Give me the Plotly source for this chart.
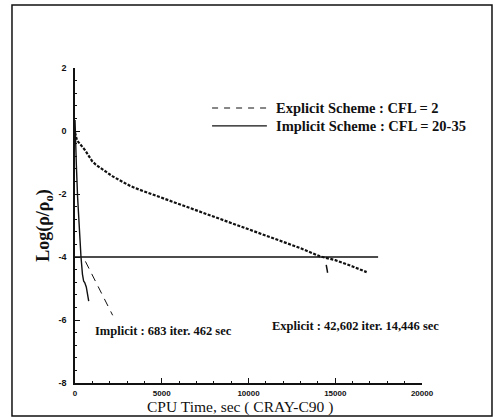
import plotly.graph_objects as go

# Explicit scheme (CFL = 2): CPU time (s) vs log residual
explicit_t = [0, 60, 115, 300, 594, 800, 980, 1200, 1440, 1800, 2200, 2710, 3200, 3700,
              4200, 4700, 5285, 6000, 7000, 8000, 9000, 10086, 11000, 12000, 13000, 14120,
              15000, 16000, 16810]
explicit_r = [-0.05, -0.18, -0.3, -0.42, -0.62, -0.8, -0.95, -1.07, -1.17, -1.3, -1.45,
              -1.6, -1.75, -1.86, -1.96, -2.05, -2.16, -2.32, -2.5, -2.72, -2.92, -3.13,
              -3.32, -3.52, -3.72, -3.98, -4.1, -4.3, -4.48]

# Implicit scheme (CFL = 20-35)
implicit_t = [0, 17, 80, 150, 248, 346, 430, 500, 560, 650, 790]
implicit_r = [0.35, -0.28, -1.1, -2.1, -3.13, -4.0, -4.55, -4.77, -4.81, -4.95, -5.4]

# Dashed continuation after convergence level
tail_t = [600, 2170]
tail_r = [-4.14, -5.85]

# Small mark near explicit crossing
mark_t = [14480, 14560]
mark_r = [-4.25, -4.5]

# Convergence level
level_t = [0, 17470]
level_r = [-4, -4]

x_ticks = [0, 5000, 10000, 15000, 20000]
y_ticks = [2, 0, -2, -4, -6, -8]

BLACK = "#111111"
SERIF = "Liberation Serif, Times New Roman, serif"
SANS = "Liberation Sans, Arial, sans-serif"

fig = go.Figure()
fig.add_trace(go.Scatter(x=level_t, y=level_r, mode="lines",
                         line=dict(color=BLACK, width=1.3), showlegend=False))
fig.add_trace(go.Scatter(x=explicit_t, y=explicit_r, mode="lines",
                         line=dict(color=BLACK, width=2.2, dash="3px,1.5px"), showlegend=False))
fig.add_trace(go.Scatter(x=implicit_t, y=implicit_r, mode="lines",
                         line=dict(color=BLACK, width=1.4), showlegend=False))
fig.add_trace(go.Scatter(x=tail_t, y=tail_r, mode="lines",
                         line=dict(color=BLACK, width=1, dash="8px,6px"), showlegend=False))
fig.add_trace(go.Scatter(x=mark_t, y=mark_r, mode="lines",
                         line=dict(color=BLACK, width=1.5), showlegend=False))

# Outer frame
fig.add_shape(type="rect", xref="paper", yref="paper", x0=-0.1816, x1=1.2017, y0=-0.105, y1=1.2,
              line=dict(color=BLACK, width=1.5))

# Legend samples
fig.add_shape(type="line", xref="paper", yref="paper", x0=0.395, x1=0.553, y0=0.873, y1=0.873,
              line=dict(color=BLACK, width=1.2, dash="6px,6px"))
fig.add_shape(type="line", xref="paper", yref="paper", x0=0.395, x1=0.553, y0=0.816, y1=0.816,
              line=dict(color=BLACK, width=1.2))
fig.add_annotation(xref="paper", yref="paper", x=0.573, y=0.873, xanchor="left", yanchor="middle",
                   text="<b>Explicit Scheme : CFL = 2</b>", showarrow=False,
                   font=dict(family=SERIF, size=14.5, color=BLACK))
fig.add_annotation(xref="paper", yref="paper", x=0.573, y=0.816, xanchor="left", yanchor="middle",
                   text="<b>Implicit Scheme : CFL = 20-35</b>", showarrow=False,
                   font=dict(family=SERIF, size=14.5, color=BLACK))

fig.add_annotation(x=1037, y=-6.36, xanchor="left", yanchor="middle",
                   text="<b>Implicit : 683 iter. 462 sec</b>", showarrow=False,
                   font=dict(family=SERIF, size=12.5, color=BLACK))
fig.add_annotation(x=11240, y=-6.2, xanchor="left", yanchor="middle",
                   text="<b>Explicit : 42,602 iter. 14,446 sec</b>", showarrow=False,
                   font=dict(family=SERIF, size=12.5, color=BLACK))

# X axis title
fig.add_annotation(xref="paper", yref="paper", x=0.476, y=-0.108, xanchor="center", yanchor="bottom",
                   text="CPU Time, sec ( CRAY-C90 )", showarrow=False, borderpad=0,
                   font=dict(family=SERIF, size=15.5, color=BLACK))

fig.update_layout(
    width=495, height=417,
    margin=dict(l=75, r=73, t=68, b=34),
    paper_bgcolor="white", plot_bgcolor="white",
    showlegend=False,
    xaxis=dict(range=[0, 20000], tickvals=x_ticks, ticktext=[f"<b>{v}</b>" for v in x_ticks],
               ticks="inside", ticklen=5, tickwidth=1.2, tickcolor=BLACK, automargin=False,
               showline=True, linecolor=BLACK, linewidth=1.5, showgrid=False, zeroline=False,
               minor=dict(ticks="inside", dtick=1000, ticklen=2.5, tickcolor=BLACK, showgrid=False),
               tickfont=dict(family=SANS, size=8, color=BLACK), ticklabelstandoff=2),
    yaxis=dict(range=[-8, 2], tickvals=y_ticks, ticktext=[f"<b>{v}</b>" for v in y_ticks],
               ticks="inside", ticklen=5, tickwidth=1.2, tickcolor=BLACK, automargin=False,
               showline=True, linecolor=BLACK, linewidth=1.5, showgrid=False, zeroline=False,
               minor=dict(ticks="inside", dtick=0.4, ticklen=2.5, tickcolor=BLACK, showgrid=False),
               tickfont=dict(family=SANS, size=9, color=BLACK), ticklabelstandoff=5,
               title=dict(text="<b>Log(ρ/ρ<sub>o</sub>)</b>", standoff=4,
                          font=dict(family=SERIF, size=18, color=BLACK))),
)

fig.write_html("out.html")
